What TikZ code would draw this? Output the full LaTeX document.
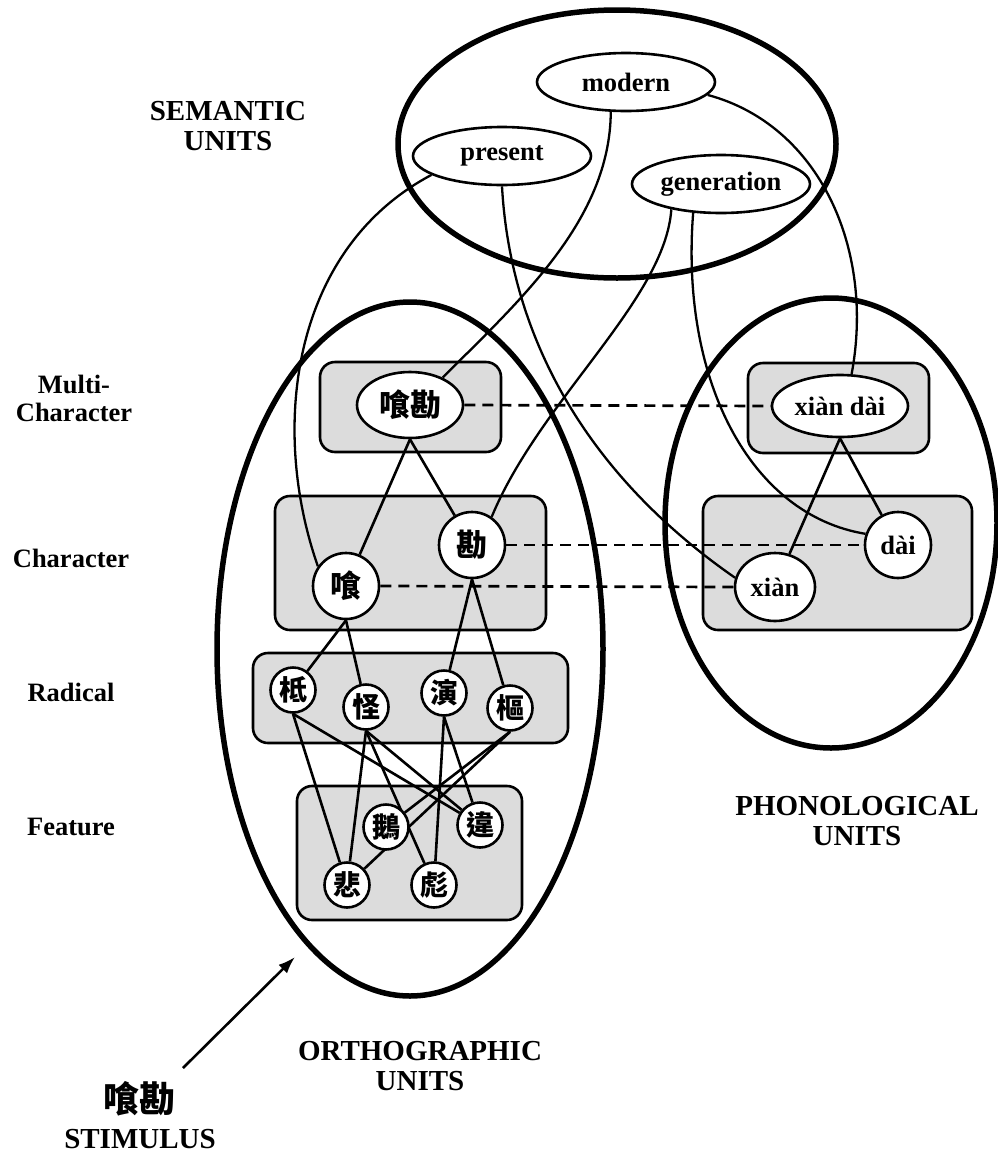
\documentclass[tikz,border=0pt]{standalone}
\usepackage{fontspec}
\setmainfont{Liberation Serif}
\newfontfamily\cjk{Noto Sans CJK TC}
\usetikzlibrary{shapes.geometric,arrows.meta}
\definecolor{boxgray}{RGB}{220,220,220}
\pgfdeclarelayer{bg}
\pgfdeclarelayer{edges}
\pgfsetlayers{bg,edges,main}

\begin{document}
\begin{tikzpicture}[x=1pt,y=-1pt,
  lbl/.style={font=\bfseries\fontsize{26.5}{28}\selectfont, align=center, inner sep=0pt},
  grouplbl/.style={lbl, font=\bfseries\fontsize{29}{30}\selectfont},
  word/.style={draw, ellipse, fill=white, line width=2.6pt, inner sep=0pt,
    font=\bfseries\fontsize{26.5}{28}\selectfont},
  sem/.style={word, minimum width=178pt, minimum height=58pt},
  hanzi/.style={draw, circle, fill=white, line width=2.6pt, inner sep=0pt,
    minimum size=66pt, font=\cjk\bfseries\fontsize{31}{31}\selectfont},
  small/.style={hanzi, minimum size=45pt, font=\cjk\bfseries\fontsize{28}{28}\selectfont},
  levelbox/.style={draw, fill=boxgray, line width=2.6pt, rounded corners=15pt},
  region/.style={line width=5.5pt},
  link/.style={line width=2.6pt},
  curve/.style={line width=2.3pt},
  xlink/.style={line width=2.7pt, dash pattern=on 11pt off 7pt}]
\useasboundingbox (0,0) rectangle (998,1157);

% unit groups
\draw[region] (617,144) ellipse [x radius=219pt, y radius=134pt];
\draw[region] (410,649) ellipse [x radius=193pt, y radius=347pt];
\draw[region] (831,523) ellipse [x radius=166pt, y radius=225pt];

% level boxes
\begin{pgfonlayer}{bg}
  \draw[levelbox] (320,362) rectangle (501,452);
  \draw[levelbox] (275,496) rectangle (546,630);
  \draw[levelbox] (253,653) rectangle (568,743);
  \draw[levelbox] (297,786) rectangle (522,920);
  \draw[levelbox] (748,363) rectangle (929,453);
  \draw[levelbox] (703,496) rectangle (972,630);
\end{pgfonlayer}

% semantic units
\node[sem] (modern) at (626,82) {modern};
\node[sem] (present) at (502,156) {present};
\node[sem] (generation) at (721,184) {generation};

% orthographic units
\node[hanzi, ellipse, minimum width=106pt, minimum height=66pt] (word) at (410,405) {喰勘};
\node[hanzi] (ca) at (346,586) {喰};
\node[hanzi] (cb) at (472,545) {勘};
\node[small] (ra) at (293,690) {柢};
\node[small] (rb) at (366,707) {怪};
\node[small] (rc) at (444,693) {演};
\node[small] (rd) at (510,708) {樞};
\node[small] (fa) at (386,827) {鵝};
\node[small] (fb) at (480,825) {違};
\node[small] (fc) at (347,885) {悲};
\node[small] (fd) at (434,885) {彪};

% phonological units
\node[word, minimum width=136pt, minimum height=62pt] (pword) at (840,406) {xiàn dài};
\node[word, circle, minimum size=66pt] (pdai) at (898,545) {dài};
\node[word, minimum width=80pt, minimum height=68pt] (pxian) at (775,587) {xiàn};

% level and group labels
\node[grouplbl] (semlbl) at (228,126) {SEMANTIC\\UNITS};
\node[lbl] (mclbl) at (74,398) {Multi-\\Character};
\node[lbl] (chlbl) at (71,558) {Character};
\node[lbl] (radlbl) at (71,692) {Radical};
\node[lbl] (featlbl) at (71,827) {Feature};
\node[grouplbl] (phonlbl) at (857,821) {PHONOLOGICAL\\UNITS};
\node[grouplbl] (orthlbl) at (420,1066) {ORTHOGRAPHIC\\UNITS};
\node[font=\cjk\bfseries\fontsize{36}{36}\selectfont, inner sep=0pt] (stim) at (139,1099) {喰勘};
\node[grouplbl] (stimlbl) at (140,1139) {STIMULUS};

\begin{pgfonlayer}{edges}
  % hierarchy links
  \draw[link] (word.south) -- (ca);
  \draw[link] (word.south) -- (cb);
  \draw[link] (ca.south) -- (ra);
  \draw[link] (ca.south) -- (rb);
  \draw[link] (cb.south) -- (rc);
  \draw[link] (cb.south) -- (rd);
  \draw[link] (ra.south) -- (fc);
  \draw[link] (ra.south) -- (fb);
  \draw[link] (rb.south) -- (fc);
  \draw[link] (rb.south) -- (fd);
  \draw[link] (rb.south) -- (fb);
  \draw[link] (rc.south) -- (fd);
  \draw[link] (rc.south) -- (fb);
  \draw[link] (rd.south) -- (fa);
  \draw[link] (rd.south) -- (fc);
  \draw[link] (pword.south) -- (pxian);
  \draw[link] (pword.south) -- (pdai);

  % orthography to phonology
  \draw[xlink] (word.east) -- (pword.west);
  \draw[xlink] (cb.east) -- (pdai.west);
  \draw[xlink] (ca.east) -- (pxian.west);

  % meaning links
  \draw[curve] (present.195) .. controls (290,250) and (270,430) .. (ca.145);
  \draw[curve] (modern.243) .. controls (610,220) and (520,300) .. (word.40);
  \draw[curve] (present.270) .. controls (510,330) and (580,470) .. (pxian.167);
  \draw[curve] (generation.207) .. controls (665,300) and (540,400) .. (cb.55);
  \draw[curve] (generation.226) .. controls (680,380) and (750,515) .. (pdai.161);
  \draw[curve] (modern.351) .. controls (820,125) and (875,250) .. (pword.70);
\end{pgfonlayer}

% stimulus arrow
\coordinate (atail) at (183,1068);
\coordinate (ahead) at (295,957);
\draw[link, -{Latex[length=17pt,width=12pt]}] (atail) -- (ahead);
\end{tikzpicture}
\end{document}
